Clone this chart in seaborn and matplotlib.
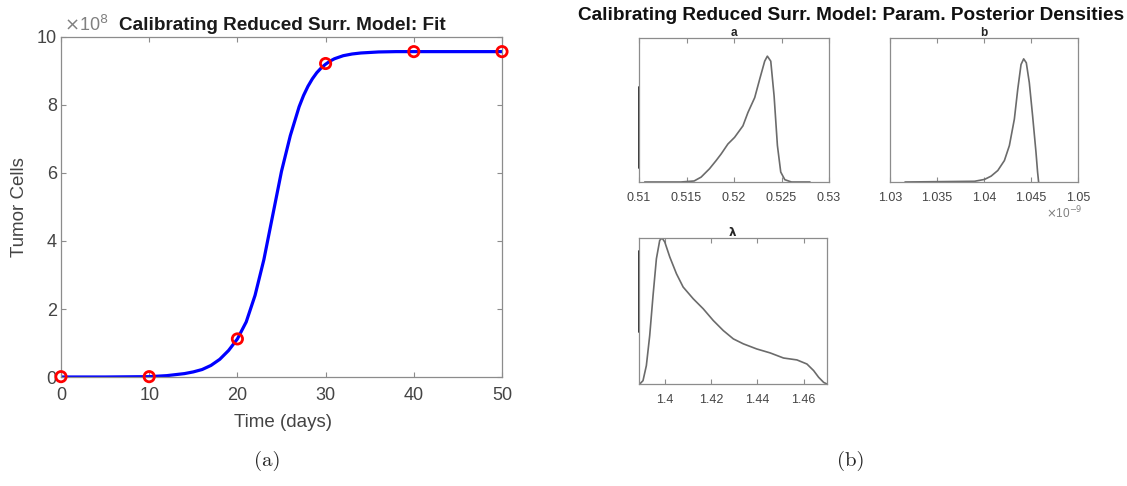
import numpy as np
import pandas as pd
import matplotlib
matplotlib.use("Agg")
import matplotlib.pyplot as plt
import seaborn as sns

# ---------------- data ----------------
# Panel (a): tumour growth fit, values in units of 1e8 cells
obs_time = [0, 10, 20, 30, 40, 50]
obs_cells = [0.01, 0.01, 1.12, 9.22, 9.57, 9.57]

fit_time = [0, 5, 10, 12, 14, 15, 16, 17, 18, 19, 20, 21, 22, 23, 24, 25,
            26, 27, 27.5, 28, 28.5, 29, 29.5, 30, 30.5, 31, 32, 33, 34, 36,
            38, 40, 45, 50]
fit_cells = [0.0, 0.0, 0.01, 0.04, 0.1, 0.15, 0.22, 0.34, 0.52, 0.78, 1.12,
             1.62, 2.4, 3.45, 4.75, 6.05, 7.1, 7.95, 8.28, 8.55, 8.77, 8.95,
             9.09, 9.2, 9.29, 9.36, 9.45, 9.5, 9.53, 9.56, 9.57, 9.57, 9.57,
             9.57]

# Panel (b): posterior densities (relative heights)
a_x = [0.5106, 0.5144, 0.5158, 0.51654, 0.51742, 0.51812, 0.51865, 0.51936,
       0.52006, 0.52094, 0.52147, 0.52218, 0.5227, 0.52323, 0.52351, 0.52387,
       0.52422, 0.52457, 0.52492, 0.52535, 0.52605, 0.528]
a_d = [0.0, 0.0, 0.007, 0.034, 0.092, 0.149, 0.195, 0.264, 0.31, 0.39, 0.483,
       0.586, 0.713, 0.839, 0.874, 0.839, 0.598, 0.253, 0.069, 0.016, 0.0, 0.0]

b_x = [1.0316, 1.039, 1.04006, 1.04076, 1.04147, 1.04217, 1.0427, 1.04323,
       1.04359, 1.04394, 1.04422, 1.0445, 1.04482, 1.04517, 1.04553, 1.0457,
       1.04581]  # x 1e-9
b_d = [0.0, 0.005, 0.018, 0.041, 0.08, 0.149, 0.253, 0.437, 0.644, 0.816,
       0.855, 0.828, 0.69, 0.46, 0.207, 0.069, 0.0]

lam_x = [1.3892, 1.3906, 1.39205, 1.3935, 1.39494, 1.39639, 1.39783, 1.39884,
         1.4, 1.40217, 1.40506, 1.40795, 1.41229, 1.41663, 1.42096, 1.4253,
         1.42964, 1.43397, 1.43976, 1.44554, 1.45132, 1.45711, 1.46144,
         1.46433, 1.4665, 1.46867, 1.47012]
lam_d = [0.0, 0.023, 0.126, 0.332, 0.606, 0.858, 0.984, 1.0, 0.973, 0.87,
         0.755, 0.664, 0.584, 0.515, 0.435, 0.366, 0.309, 0.275, 0.24, 0.213,
         0.178, 0.165, 0.137, 0.092, 0.046, 0.011, 0.0]

a_ticks = [0.51, 0.515, 0.52, 0.525, 0.53]
b_ticks = [1.03, 1.035, 1.04, 1.045, 1.05]
lam_ticks = [1.4, 1.42, 1.44, 1.46]
t_ticks = [0, 10, 20, 30, 40, 50]
y_ticks = [0, 2, 4, 6, 8, 10]

# ---------------- style ----------------
sns.set_style("white")
plt.rcParams["font.family"] = ["Liberation Sans", "DejaVu Sans"]

W, H = 1127, 486
fig = plt.figure(figsize=(W / 100, H / 100), dpi=100)


def px_axes(x0, y0, x1, y1):
    return fig.add_axes([x0 / W, 1 - y1 / H, (x1 - x0) / W, (y1 - y0) / H])


SPINE = "#8c8c8c"
TXT = "#444444"


def style_axes(ax, size, pad=4):
    for s in ax.spines.values():
        s.set_color(SPINE)
        s.set_linewidth(0.9)
        s.set_visible(True)
    ax.tick_params(direction="in", length=3.5, width=0.8, color=SPINE,
                   labelsize=size, labelcolor=TXT, top=True, right=True,
                   bottom=True, left=True, pad=pad)


# ---------------- panel (a) ----------------
ax = px_axes(61, 37, 502, 377)
fit_df = pd.DataFrame({"t": fit_time, "n": fit_cells})
obs_df = pd.DataFrame({"t": obs_time, "n": obs_cells})
sns.lineplot(data=fit_df, x="t", y="n", ax=ax, color="#0000ff", lw=2.3,
             zorder=2)
sns.scatterplot(data=obs_df, x="t", y="n", ax=ax, s=55, marker="o",
                facecolors="none", edgecolor="#ff0000", linewidth=2.0,
                zorder=3, clip_on=False)
ax.set_xlim(0, 50)
ax.set_ylim(0, 10)
ax.set_xticks(t_ticks)
ax.set_yticks(y_ticks)
style_axes(ax, 13)
ax.tick_params(axis="x", pad=7)
ax.tick_params(axis="y", pad=3)
ax.set_xlabel("Time (days)", fontsize=13.5, color=TXT)
ax.set_ylabel("Tumor Cells", fontsize=13.5, color=TXT)
ax.xaxis.set_label_coords(0.503, -0.11)
ax.yaxis.set_label_coords(-0.075, 0.5)
fig.text(282 / W, 1 - 26 / H, "Calibrating Reduced Surr. Model: Fit",
         ha="center", va="center", fontsize=13.6, fontweight="bold",
         color="#1a1a1a")
fig.text(64 / W, 1 - 25 / H, r"$\times$10$^{8}$", ha="left", va="center",
         fontsize=13, color="#808080")

# ---------------- panel (b) ----------------
fig.text(851 / W, 1 - 15 / H,
         "Calibrating Reduced Surr. Model: Param. Posterior Densities",
         ha="center", va="center", fontsize=13.7, fontweight="bold",
         color="#111111")

LINE = "#6b6b6b"

ax_a = px_axes(639, 38, 829, 182)
sns.lineplot(x=a_x, y=a_d, ax=ax_a, color=LINE, lw=1.2)
ax_a.set_xlim(0.51, 0.53)
ax_a.set_ylim(0, 1.0)
ax_a.set_xticks(a_ticks)
ax_a.set_xticklabels(["0.51", "0.515", "0.52", "0.525", "0.53"])
ax_a.set_yticks([])
style_axes(ax_a, 9, pad=7)
ax_a.set_title("a", fontsize=8.5, fontweight="bold", pad=1.5)
ax_a.plot([0, 0], [0.095, 0.662], transform=ax_a.transAxes, color="#222222",
          lw=1.3, clip_on=False)

ax_b = px_axes(890, 38, 1078, 182)
b_df = pd.DataFrame({"x": b_x, "d": b_d})
sns.lineplot(data=b_df, x="x", y="d", ax=ax_b, color=LINE, lw=1.2)
ax_b.set_xlim(1.03, 1.05)
ax_b.set_ylim(0, 1.0)
ax_b.set_xticks(b_ticks)
ax_b.set_xticklabels(["1.03", "1.035", "1.04", "1.045", "1.05"])
ax_b.set_yticks([])
style_axes(ax_b, 9, pad=7)
ax_b.set_title("b", fontsize=8.5, fontweight="bold", pad=1.5)
fig.text(1064 / W, 1 - 213 / H, r"$\times$10$^{-9}$", ha="center",
         va="center", fontsize=8.5, color="#808080")

ax_l = px_axes(639, 238, 827, 384)
sns.lineplot(x=lam_x, y=lam_d, ax=ax_l, color=LINE, lw=1.2)
ax_l.set_xlim(1.38887, 1.47012)
ax_l.set_ylim(0, 1.0)
ax_l.set_xticks(lam_ticks)
ax_l.set_xticklabels(["1.4", "1.42", "1.44", "1.46"])
ax_l.set_yticks([])
style_axes(ax_l, 9, pad=7)
ax_l.set_title(r"$\mathbf{\lambda}$", fontsize=8.5, fontweight="bold", pad=1.5)
ax_l.plot([0, 0], [0.356, 0.909], transform=ax_l.transAxes, color="#222222",
          lw=1.3, clip_on=False)

for a_ in (ax_a, ax_b, ax_l):
    a_.set_xlabel("")
    a_.set_ylabel("")

# ---------------- captions ----------------
fig.text(267 / W, 1 - 461 / H, "(a)", ha="center", va="center",
         fontsize=15, family="cmr10")
fig.text(851 / W, 1 - 461 / H, "(b)", ha="center", va="center",
         fontsize=15, family="cmr10")

fig.savefig("out.png", dpi=100, facecolor="white")
